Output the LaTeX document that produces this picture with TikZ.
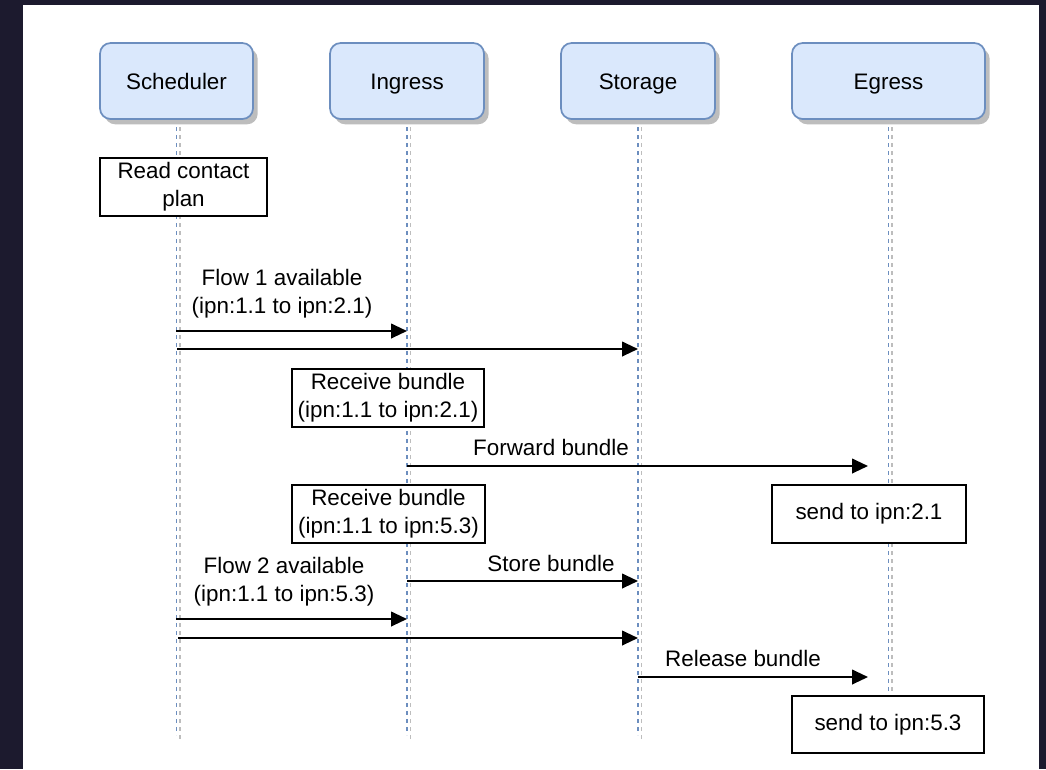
\documentclass[tikz,border=0pt]{standalone}
\usepackage{fontspec}
\setmainfont{Liberation Sans}
\usetikzlibrary{arrows.meta,shadows}
\definecolor{bgdark}{HTML}{1C1A2E}
\definecolor{hdrfill}{HTML}{DAE8FC}
\definecolor{hdrline}{HTML}{6C8EBF}
\definecolor{shadowgray}{HTML}{BDBDBD}
\begin{document}
\begin{tikzpicture}[x=0.75pt,y=-0.75pt,
  every node/.style={font=\fontsize{16.8}{21}\selectfont, text=black},
  header/.style={draw=hdrline, fill=hdrfill, line width=1.3pt, rounded corners=8pt,
    minimum height=57pt, inner sep=0pt, text height=12pt, text depth=0pt,
    drop shadow={shadow xshift=3.5pt, shadow yshift=-4pt, fill=shadowgray, opacity=1}},
  lifeline/.style={draw=hdrline, line width=1.2pt, dash pattern=on 3pt off 3pt},
  lifeshade/.style={draw=shadowgray, line width=1.2pt, dash pattern=on 3pt off 3pt},
  actbox/.style={draw=black, fill=white, line width=1.4pt, inner sep=0pt, align=center, minimum height=43.5pt},
  msg/.style={draw=black, line width=1.5pt, -{Triangle[length=12pt, width=11pt]}},
  lbl/.style={align=center, inner sep=0pt}
]
% background
\fill[bgdark] (0,0) rectangle (1046,769);
\fill[white] (23,5) rectangle (1039,769);
\useasboundingbox (0,0) rectangle (1046,769);

% lifeline end coordinates
\coordinate (schTop) at (176.5,119);
\coordinate (ingTop) at (407,119);
\coordinate (stoTop) at (638,119);
\coordinate (egrTop) at (888.5,119);
\coordinate (schEnd) at (176.5,735);
\coordinate (ingEnd) at (407,735);
\coordinate (stoEnd) at (638,735);
\coordinate (egrEnd) at (888.5,735);

% lifelines (shadow then blue)
\foreach \a/\b in {schTop/schEnd, ingTop/ingEnd, stoTop/stoEnd, egrTop/egrEnd}{
  \draw[lifeshade] ([xshift=2.5pt]\a) -- ([xshift=2.5pt,yshift=-4pt]\b);
  \draw[lifeline] (\a) -- (\b);
}

% header boxes
\node[header, minimum width=114.75pt] (sch) at (176.5,81) {Scheduler};
\node[header, minimum width=115.5pt] (ing) at (407,81) {Ingress};
\node[header, minimum width=115.5pt] (sto) at (638,81) {Storage};
\node[header, minimum width=144.75pt] (egr) at (888.5,81) {Egress};

% activity boxes
\node[actbox, minimum width=125.25pt] (read) at (183.5,187) {Read contact\\plan};
\node[actbox, minimum width=144pt] (recv1) at (388,398) {Receive bundle\\(ipn:1.1 to ipn:2.1)};
\node[actbox, minimum width=144.75pt] (recv2) at (388.5,514) {Receive bundle\\(ipn:1.1 to ipn:5.3)};
\node[actbox, minimum width=145.5pt] (send1) at (869,514) {send to ipn:2.1};
\node[actbox, minimum width=144pt, minimum height=42.75pt] (send2) at (888,724.5) {send to ipn:5.3};

% message endpoints
\coordinate (f1aS) at (176,331);  \coordinate (f1aE) at (407,331);
\coordinate (f1bS) at (177,349);  \coordinate (f1bE) at (638,349);
\coordinate (fwdS) at (407,466);  \coordinate (fwdE) at (868,466);
\coordinate (stoS) at (407,581);  \coordinate (stoE) at (638,581);
\coordinate (f2aS) at (176,619);  \coordinate (f2aE) at (407,619);
\coordinate (f2bS) at (178,638);  \coordinate (f2bE) at (638,638);
\coordinate (relS) at (638,677);  \coordinate (relE) at (868,677);

% messages
\draw[msg] (f1aS) -- (f1aE);
\draw[msg] (f1bS) -- (f1bE);
\draw[msg] (fwdS) -- (fwdE);
\draw[msg] (stoS) -- (stoE);
\draw[msg] (f2aS) -- (f2aE);
\draw[msg] (f2bS) -- (f2bE);
\draw[msg] (relS) -- (relE);

% labels
\node[lbl] (lf1) at (282,294) {Flow 1 available\\(ipn:1.1 to ipn:2.1)};
\node[lbl] (lfwd) at (551,447) {Forward bundle};
\node[lbl] (lsto) at (551,563) {Store bundle};
\node[lbl] (lf2) at (284,581.5) {Flow 2 available\\(ipn:1.1 to ipn:5.3)};
\node[lbl] (lrel) at (743,658) {Release bundle};
\end{tikzpicture}
\end{document}
